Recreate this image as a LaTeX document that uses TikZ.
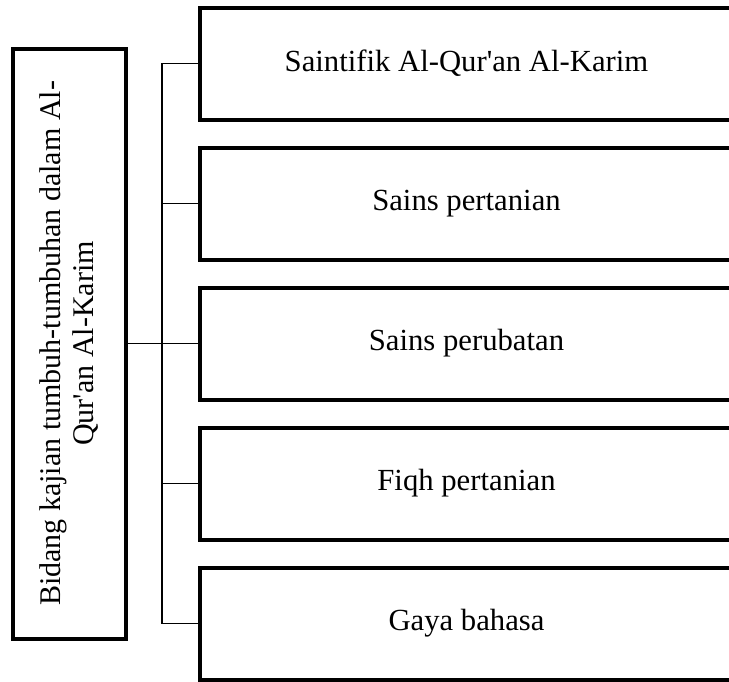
\documentclass[tikz,border=0pt]{standalone}
\usepackage{fontspec}
\setmainfont{Liberation Serif}
\begin{document}
\begin{tikzpicture}[x=1pt,y=-1pt,
  box/.style={draw=black,line width=4pt,fill=white,inner sep=0pt,font=\fontsize{30.7}{33}\selectfont},
  conn/.style={draw=black,line width=1.5pt}]
\useasboundingbox (0,0) rectangle (729,681);
\clip (0,0) rectangle (729,681);
\node[box,minimum width=113pt,minimum height=590pt] (L) at (69.5,343.5) {};
\node[rotate=90,align=center,inner sep=0pt,font=\fontsize{30}{33}\selectfont] (LT) at (L.center) {Bidang kajian tumbuh-tumbuhan dalam Al-\\Qur\textquotesingle an Al-Karim};
\foreach \i/\t in {1/{Saintifik Al-Qur\textquotesingle an Al-Karim},2/{Sains pertanian},3/{Sains perubatan},4/{Fiqh pertanian},5/{Gaya bahasa}}{
  \node[box,minimum width=533pt,minimum height=112pt] (B\i) at (466.5,{63.5+140*(\i-1)}) {\t};
}
\coordinate (bus) at (162,343.5);
\draw[conn] (L.east) -- (B3.west);
\foreach \i in {1,2,4,5}{
  \draw[conn] (B\i.west) -| (bus);
}
\end{tikzpicture}
\end{document}
